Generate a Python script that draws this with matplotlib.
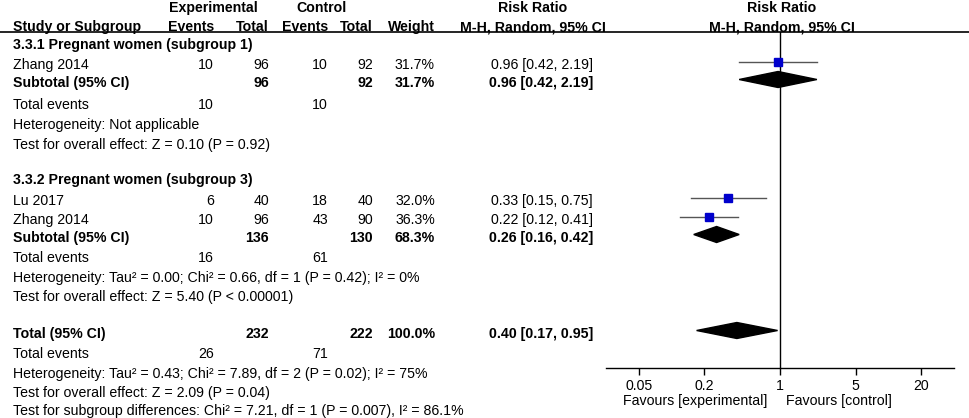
import numpy as np
import matplotlib.pyplot as plt

plt.rcParams['font.family'] = ['Liberation Sans', 'DejaVu Sans']

# Study data
studies = ["Zhang 2014", "Lu 2017", "Zhang 2014"]
exp_events = [10, 6, 10]
exp_total = [96, 40, 96]
ctrl_events = [10, 18, 43]
ctrl_total = [92, 40, 90]
weights = [31.7, 32.0, 36.3]
rr = [0.96, 0.33, 0.22]
rr_lo = [0.42, 0.15, 0.12]
rr_hi = [2.19, 0.75, 0.41]

# Subgroup summaries
sub_names = ["3.3.1 Pregnant women (subgroup 1)", "3.3.2 Pregnant women (subgroup 3)"]
sub_exp_events = [10, 16]
sub_exp_total = [96, 136]
sub_ctrl_events = [10, 61]
sub_ctrl_total = [92, 130]
sub_weight = [31.7, 68.3]
sub_rr = [0.96, 0.26]
sub_lo = [0.42, 0.16]
sub_hi = [2.19, 0.42]
sub_het = ["Heterogeneity: Not applicable",
           "Heterogeneity: Tau² = 0.00; Chi² = 0.66, df = 1 (P = 0.42); I² = 0%"]
sub_test = ["Test for overall effect: Z = 0.10 (P = 0.92)",
            "Test for overall effect: Z = 5.40 (P < 0.00001)"]

# Overall
tot_exp_events, tot_exp_total = 26, 232
tot_ctrl_events, tot_ctrl_total = 71, 222
tot_weight = 100.0
tot_rr, tot_lo, tot_hi = 0.40, 0.17, 0.95
tot_lines = ["Heterogeneity: Tau² = 0.43; Chi² = 7.89, df = 2 (P = 0.02); I² = 75%",
             "Test for overall effect: Z = 2.09 (P = 0.04)",
             "Test for subgroup differences: Chi² = 7.21, df = 1 (P = 0.007), I² = 86.1%"]

xticks = [0.05, 0.2, 1, 5, 20]
xtick_labels = ["0.05", "0.2", "1", "5", "20"]

# layout (pixel rows)
W, H = 969, 418
fs = 10.2
group_members = [[0], [1, 2]]
group_title_y = [45, 180]
group_study_y = [[65], [201, 220]]
group_sub_y = [83, 238]
group_events_y = [105, 258]
group_het_y = [125, 278]
group_test_y = [145, 297]
total_y = 334
total_events_y = 354
total_lines_y = [374, 393, 411]
mark_shift = -3.5

col_ee, col_et, col_ce, col_ct, col_w, col_rr = 214, 269, 328, 373, 435, 593
col_rr_c = 533
x_label = 13

fig = plt.figure(figsize=(W / 100, H / 100), dpi=100)
ax_t = fig.add_axes([0, 0, 1, 1])
ax_t.set_xlim(0, W)
ax_t.set_ylim(H, 0)
ax_t.axis('off')

ax_left, ax_right, ax_top, ax_bot = 606, 954, 32, 368
ax = fig.add_axes([ax_left / W, 1 - ax_bot / H, (ax_right - ax_left) / W, (ax_bot - ax_top) / H])
ax.patch.set_alpha(0)
ax.set_xscale('log')
ax.set_xlim(1 / 40.3, 40.3)
ax.set_ylim(ax_bot, ax_top)
for s in ['top', 'left', 'right']:
    ax.spines[s].set_visible(False)
ax.spines['bottom'].set_linewidth(1.0)
ax.set_yticks([])
ax.set_xticks(xticks)
ax.set_xticklabels(xtick_labels, fontsize=fs)
ax.minorticks_off()
ax.tick_params(axis='x', length=5, width=1, pad=3)
ax.axvline(1, color='black', lw=1.0, zorder=1)


def txt(x, y, s, ha='right', bold=False):
    ax_t.text(x, y, s, ha=ha, va='center', fontsize=fs,
              fontweight='bold' if bold else 'normal', color='black')


# header
txt(213, 8, "Experimental", ha='center', bold=True)
txt(322, 8, "Control", ha='center', bold=True)
txt(col_rr_c, 8, "Risk Ratio", ha='center', bold=True)
txt(782, 8, "Risk Ratio", ha='center', bold=True)
txt(x_label, 27, "Study or Subgroup", ha='left', bold=True)
txt(col_ee, 27, "Events", bold=True)
txt(col_et, 27, "Total", bold=True)
txt(col_ce, 27, "Events", bold=True)
txt(col_ct, 27, "Total", bold=True)
txt(col_w, 27, "Weight", bold=True)
txt(col_rr_c, 27, "M-H, Random, 95% CI", ha='center', bold=True)
txt(782, 27, "M-H, Random, 95% CI", ha='center', bold=True)
ax_t.plot([0, W], [32, 32], color='black', lw=1.2)


def diamond(y, c, lo, hi):
    ax.fill([lo, c, hi, c], [y, y - 8, y, y + 8], color='black', zorder=3, clip_on=False)


for g in range(2):
    txt(x_label, group_title_y[g], sub_names[g], ha='left', bold=True)
    for i, y in zip(group_members[g], group_study_y[g]):
        txt(x_label, y, studies[i], ha='left')
        txt(col_ee, y, str(exp_events[i]))
        txt(col_et, y, str(exp_total[i]))
        txt(col_ce, y, str(ctrl_events[i]))
        txt(col_ct, y, str(ctrl_total[i]))
        txt(col_w, y, f"{weights[i]:.1f}%")
        txt(col_rr, y, f"{rr[i]:.2f} [{rr_lo[i]:.2f}, {rr_hi[i]:.2f}]")
        ym = y + mark_shift
        ax.plot([rr_lo[i], rr_hi[i]], [ym, ym], color='#555555', lw=1.0, zorder=2)
        ax.plot(rr[i], ym, 's', color='#0000CC', ms=6.0 * np.sqrt(weights[i] / 31.7),
                mec='#0000CC', zorder=3)
    y = group_sub_y[g]
    txt(x_label, y, "Subtotal (95% CI)", ha='left', bold=True)
    txt(col_et, y, str(sub_exp_total[g]), bold=True)
    txt(col_ct, y, str(sub_ctrl_total[g]), bold=True)
    txt(col_w, y, f"{sub_weight[g]:.1f}%", bold=True)
    txt(col_rr, y, f"{sub_rr[g]:.2f} [{sub_lo[g]:.2f}, {sub_hi[g]:.2f}]", bold=True)
    diamond(y + mark_shift, sub_rr[g], sub_lo[g], sub_hi[g])
    y = group_events_y[g]
    txt(x_label, y, "Total events", ha='left')
    txt(col_ee, y, str(sub_exp_events[g]))
    txt(col_ce, y, str(sub_ctrl_events[g]))
    txt(x_label, group_het_y[g], sub_het[g], ha='left')
    txt(x_label, group_test_y[g], sub_test[g], ha='left')

# total
txt(x_label, total_y, "Total (95% CI)", ha='left', bold=True)
txt(col_et, total_y, str(tot_exp_total), bold=True)
txt(col_ct, total_y, str(tot_ctrl_total), bold=True)
txt(col_w, total_y, f"{tot_weight:.1f}%", bold=True)
txt(col_rr, total_y, f"{tot_rr:.2f} [{tot_lo:.2f}, {tot_hi:.2f}]", bold=True)
diamond(total_y + mark_shift, tot_rr, tot_lo, tot_hi)
txt(x_label, total_events_y, "Total events", ha='left')
txt(col_ee, total_events_y, str(tot_exp_events))
txt(col_ce, total_events_y, str(tot_ctrl_events))
for y, s in zip(total_lines_y, tot_lines):
    txt(x_label, y, s, ha='left')

txt(767, 401, "Favours [experimental]")
txt(786, 401, "Favours [control]", ha='left')

fig.savefig("out.png", dpi=100)
